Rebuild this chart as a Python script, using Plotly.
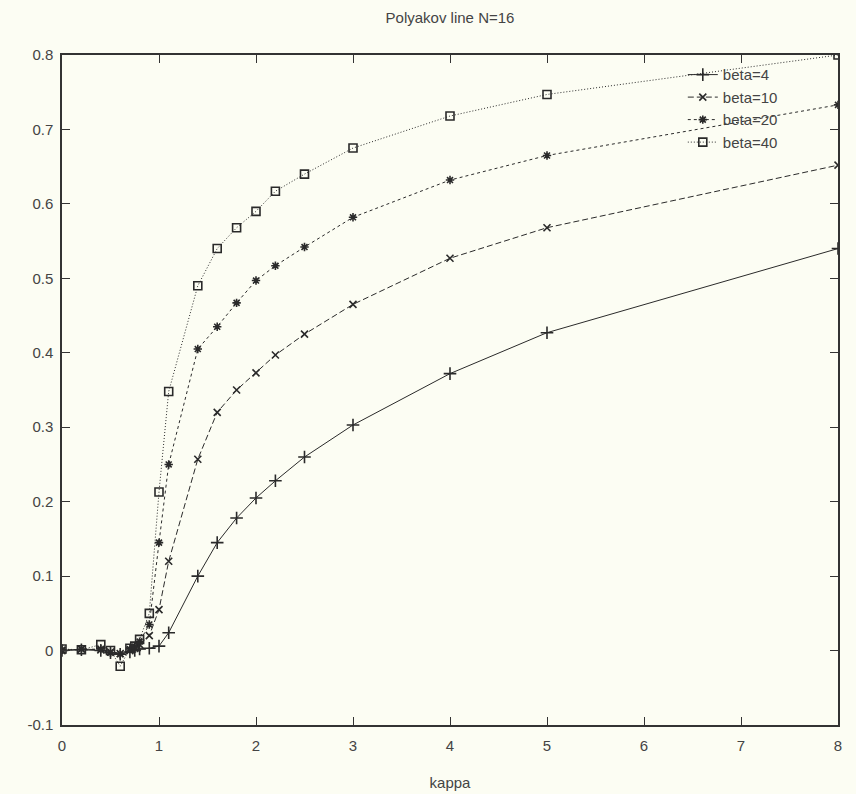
import plotly.graph_objects as go

kappa = [0, 0.2, 0.4, 0.5, 0.6, 0.7, 0.75, 0.8, 0.9, 1.0, 1.1, 1.4, 1.6, 1.8, 2.0, 2.2, 2.5, 3, 4, 5, 8]

beta4 = [0.0, 0.001, 0.0, -0.003, -0.005, -0.002, 0.0, 0.002, 0.003, 0.006, 0.024, 0.100, 0.145, 0.178, 0.205, 0.228, 0.260, 0.303, 0.372, 0.427, 0.540]
beta10 = [0.0, 0.002, 0.001, -0.002, -0.004, 0.0, 0.003, 0.008, 0.020, 0.055, 0.120, 0.257, 0.320, 0.350, 0.373, 0.397, 0.425, 0.465, 0.527, 0.568, 0.652]
beta20 = [0.001, 0.002, 0.002, -0.003, -0.005, 0.002, 0.005, 0.012, 0.035, 0.145, 0.250, 0.405, 0.435, 0.467, 0.497, 0.517, 0.542, 0.582, 0.632, 0.665, 0.733]
beta40 = [0.002, 0.001, 0.008, 0.0, -0.021, 0.003, 0.006, 0.015, 0.050, 0.213, 0.348, 0.490, 0.540, 0.568, 0.590, 0.617, 0.640, 0.675, 0.718, 0.747, 0.800]

series_names = ["beta=4", "beta=10", "beta=20", "beta=40"]
series_values = [beta4, beta10, beta20, beta40]

x_tickvals = [0, 1, 2, 3, 4, 5, 6, 7, 8]
x_ticktext = ["0", "1", "2", "3", "4", "5", "6", "7", "8"]
y_tickvals = [-0.1, 0, 0.1, 0.2, 0.3, 0.4, 0.5, 0.6, 0.7, 0.8]
y_ticktext = ["-0.1", "0", "0.1", "0.2", "0.3", "0.4", "0.5", "0.6", "0.7", "0.8"]

styles = [
    dict(dash="solid", symbol="cross-thin-open", size=9),
    dict(dash="6px,3px", symbol="x-thin-open", size=7),
    dict(dash="3px,3px", symbol="asterisk-open", size=7),
    dict(dash="1px,2px", symbol="square-open", size=8),
]

ink = "#2a2a2a"
bg = "#fcfdf3"
font_family = "Liberation Sans Narrow, Liberation Sans, Arial, sans-serif"

fig = go.Figure()
for name, vals, st in zip(series_names, series_values, styles):
    fig.add_trace(go.Scatter(
        x=kappa, y=vals, name=name, mode="lines+markers",
        line=dict(color=ink, width=1, dash=st["dash"]),
        marker=dict(symbol=st["symbol"], size=st["size"], color=ink,
                    line=dict(color=ink, width=1.6)),
    ))

axis_common = dict(
    showgrid=False, zeroline=False, showline=True, linecolor="#333333",
    linewidth=1.5, mirror="ticks", ticks="inside", ticklen=8,
    tickcolor="#333333", tickwidth=1, automargin=False,
    tickfont=dict(family=font_family, size=15, color="#444444"),
)

fig.update_layout(
    width=856, height=794,
    paper_bgcolor=bg, plot_bgcolor=bg,
    margin=dict(l=62, r=18, t=55, b=69),
    title=dict(text="Polyakov line N=16", x=0.5, xref="paper", xanchor="center",
               y=1 - 18 / 794, yref="container", yanchor="middle",
               font=dict(family=font_family, size=15, color="#444444")),
    xaxis=dict(range=[0, 8], tickvals=x_tickvals, ticktext=x_ticktext,
               ticklabelstandoff=6,
               title=dict(text="kappa", standoff=25,
                          font=dict(family=font_family, size=15, color="#444444")),
               **axis_common),
    yaxis=dict(range=[-0.1, 0.8], tickvals=y_tickvals, ticktext=y_ticktext,
               ticklabelstandoff=4,
               **axis_common),
    legend=dict(x=0.8, y=0.995, xanchor="left", yanchor="top",
                bgcolor="rgba(0,0,0,0)", tracegroupgap=0,
                font=dict(family=font_family, size=15, color="#444444")),
    showlegend=True,
)

fig.write_html("out.html")
